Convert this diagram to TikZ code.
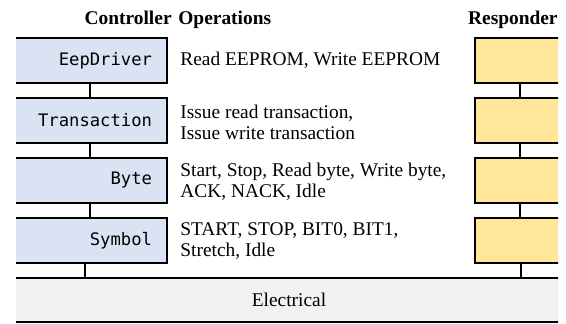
\documentclass[tikz,border=0pt]{standalone}
\usepackage{fontspec}
\setmainfont{Liberation Serif}
\setmonofont{DejaVu Sans Mono}

\definecolor{ctlblue}{HTML}{DAE3F3}
\definecolor{rspyellow}{HTML}{FFE699}
\definecolor{elecgray}{HTML}{F2F2F2}

\tikzset{
    layer/.style={shape=rectangle, draw=black, line width=0.9pt, minimum height=22.5pt},
    ctllayer/.style={layer, fill=ctlblue, minimum width=77pt, text width=62pt, align=right,
        font=\ttfamily\fontsize{8.6}{10}\selectfont},
    rsplayer/.style={layer, fill=rspyellow, minimum width=45pt},
    ops/.style={anchor=west, inner sep=0pt, align=left, font=\fontsize{9.7}{10.5}\selectfont},
    heading/.style={anchor=base, inner sep=0pt, font=\bfseries\fontsize{9.7}{10.5}\selectfont},
}

\begin{document}
\begin{tikzpicture}[x=0.5pt, y=-0.5pt]
    \useasboundingbox (0,0) rectangle (566,324);

    \node[heading, anchor=base east] (hctl) at (172,25) {Controller};
    \node[heading, anchor=base west] (hops) at (178,25) {Operations};
    \node[heading, anchor=base east] (hrsp) at (558,25) {Responder};

    % layer boxes run past the edges on both sides
    \clip (16,0) rectangle (558,324);

    \node[ctllayer] (ctlDriver) at (90,60.5) {EepDriver};
    \node[ctllayer] (ctlTrans) at (90,120.5) {Transaction};
    \node[ctllayer] (ctlByte) at (90,180.5) {Byte};
    \node[ctllayer] (ctlSymbol) at (90,240.5) {Symbol};

    \node[ops] (opDriver) at (180,60.5) {Read EEPROM, Write EEPROM};
    \node[ops] (opTrans) at (180,122) {Issue read transaction,\\Issue write transaction};
    \node[ops] (opByte) at (180,182) {Start, Stop, Read byte, Write byte,\\ACK, NACK, Idle};
    \node[ops] (opSymbol) at (180,241.5) {START, STOP, BIT0, BIT1,\\Stretch, Idle};

    \node[rsplayer] (rspDriver) at (520,60.5) {};
    \node[rsplayer] (rspTrans) at (520,120.5) {};
    \node[rsplayer] (rspByte) at (520,180.5) {};
    \node[rsplayer] (rspSymbol) at (520,240.5) {};

    \node[layer, fill=elecgray, minimum width=276pt, minimum height=22pt,
        font=\fontsize{9.7}{10.5}\selectfont] (elec) at (289,300) {Electrical};

    \path[-, line width=0.9pt]
    (ctlDriver) edge (ctlTrans)
    (ctlTrans) edge (ctlByte)
    (ctlByte) edge (ctlSymbol)
    (rspDriver) edge (rspTrans)
    (rspTrans) edge (rspByte)
    (rspByte) edge (rspSymbol)
    ([xshift=-2.5pt]ctlSymbol.south) edge ([xshift=-2.5pt]ctlSymbol.south |- elec.north)
    ([xshift=0.5pt]rspSymbol.south) edge ([xshift=0.5pt]rspSymbol.south |- elec.north)
    ;
\end{tikzpicture}
\end{document}
